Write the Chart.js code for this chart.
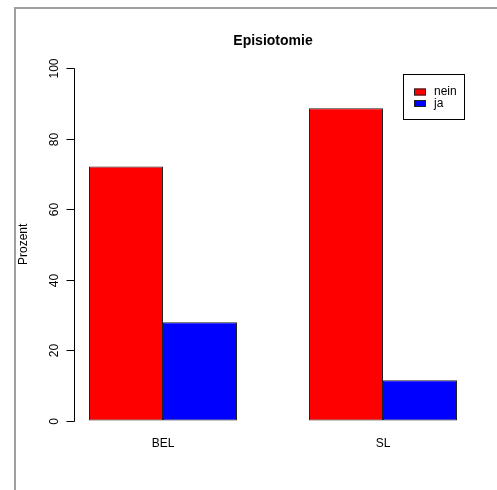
<!DOCTYPE html>
<html>
<head>
<meta charset="utf-8">
<script src="https://cdn.jsdelivr.net/npm/chart.js@4"></script>
<style>
  html, body { margin: 0; padding: 0; background: #fff; }
  #wrap { width: 497px; height: 490px; position: relative; }
</style>
</head>
<body>
<div id="wrap"><canvas id="c" width="497" height="490"></canvas></div>
<script>
const categories = ['BEL', 'SL'];
const seriesNames = ['nein', 'ja'];
const neinValues = [72.1, 88.6];
const jaValues = [27.9, 11.4];
const yTicks = [0, 20, 40, 60, 80, 100];
const chartTitle = 'Episiotomie';
const yTitle = 'Prozent';

const FONT = '"Liberation Sans", Arial, Helvetica, sans-serif';

const rStyle = {
  id: 'rStyle',
  afterDraw(chart) {
    const ctx = chart.ctx;
    const ys = chart.scales.y;
    const meta0 = chart.getDatasetMeta(0);
    const bar0 = meta0.data[0];
    const bw = bar0.width;
    const axisX = Math.round(bar0.x - bw / 2 - 0.2 * bw) + 0.5;
    const area = chart.chartArea;

    ctx.save();
    // outer frame (top + left)
    ctx.strokeStyle = '#a0a0a0';
    ctx.lineWidth = 2;
    ctx.beginPath();
    ctx.moveTo(15, 490);
    ctx.lineTo(15, 8);
    ctx.lineTo(497, 8);
    ctx.stroke();

    // title
    ctx.fillStyle = '#000';
    ctx.font = 'bold 14px ' + FONT;
    ctx.textAlign = 'center';
    ctx.textBaseline = 'middle';
    ctx.fillText(chartTitle, 273, 41);

    // y axis
    ctx.strokeStyle = '#000';
    ctx.lineWidth = 1;
    const y0 = Math.round(ys.getPixelForValue(yTicks[0])) + 0.5;
    const y1 = Math.round(ys.getPixelForValue(yTicks[yTicks.length - 1])) + 0.5;
    ctx.beginPath();
    ctx.moveTo(axisX, y0);
    ctx.lineTo(axisX, y1);
    ctx.stroke();
    ctx.font = '12px ' + FONT;
    yTicks.forEach(v => {
      const py = Math.round(ys.getPixelForValue(v)) + 0.5;
      ctx.beginPath();
      ctx.moveTo(axisX, py);
      ctx.lineTo(axisX - 8, py);
      ctx.stroke();
      ctx.save();
      ctx.translate(axisX - 20, py);
      ctx.rotate(-Math.PI / 2);
      ctx.textAlign = 'center';
      ctx.textBaseline = 'middle';
      ctx.fillText(String(v), 0, 0);
      ctx.restore();
    });
    // y title
    ctx.save();
    ctx.translate(24, (area.top + area.bottom) / 2);
    ctx.rotate(-Math.PI / 2);
    ctx.textAlign = 'center';
    ctx.textBaseline = 'middle';
    ctx.fillText(yTitle, 0, 0);
    ctx.restore();

    // legend
    const lx = 403.5, ly = 74.5, lw = 61, lh = 45;
    ctx.strokeStyle = '#000';
    ctx.lineWidth = 1;
    ctx.strokeRect(lx, ly, lw, lh);
    chart.data.datasets.forEach((ds, i) => {
      const cy = 91.5 + i * 11.5;
      ctx.fillStyle = ds.backgroundColor;
      ctx.fillRect(414, cy - 3, 12, 7);
      ctx.strokeStyle = '#222';
      ctx.strokeRect(414.5, cy - 2.5, 11, 6);
      ctx.fillStyle = '#000';
      ctx.textAlign = 'left';
      ctx.textBaseline = 'middle';
      ctx.font = '12px ' + FONT;
      ctx.fillText(ds.label, 434, cy + 0.5);
    });
    ctx.restore();
  }
};

new Chart(document.getElementById('c'), {
  type: 'bar',
  data: {
    labels: categories,
    datasets: [
      { label: seriesNames[0], data: neinValues, backgroundColor: '#ff0000', borderColor: '#222222', borderWidth: 1, borderSkipped: false },
      { label: seriesNames[1], data: jaValues, backgroundColor: '#0000ff', borderColor: '#222222', borderWidth: 1, borderSkipped: false }
    ]
  },
  options: {
    responsive: false,
    animation: false,
    devicePixelRatio: 1,
    layout: { padding: { left: 53, right: 4, top: 54, bottom: 37 } },
    plugins: {
      legend: { display: false },
      title: { display: false },
      tooltip: { enabled: false }
    },
    datasets: {
      bar: { categoryPercentage: 148 / 220, barPercentage: 1 }
    },
    scales: {
      x: {
        type: 'category',
        offset: true,
        grid: { display: false, drawTicks: false },
        border: { display: false },
        ticks: { color: '#000', font: { family: FONT, size: 12 }, padding: 2 }
      },
      y: {
        display: false,
        min: -4,
        max: 104
      }
    }
  },
  plugins: [rStyle]
});
</script>
</body>
</html>
